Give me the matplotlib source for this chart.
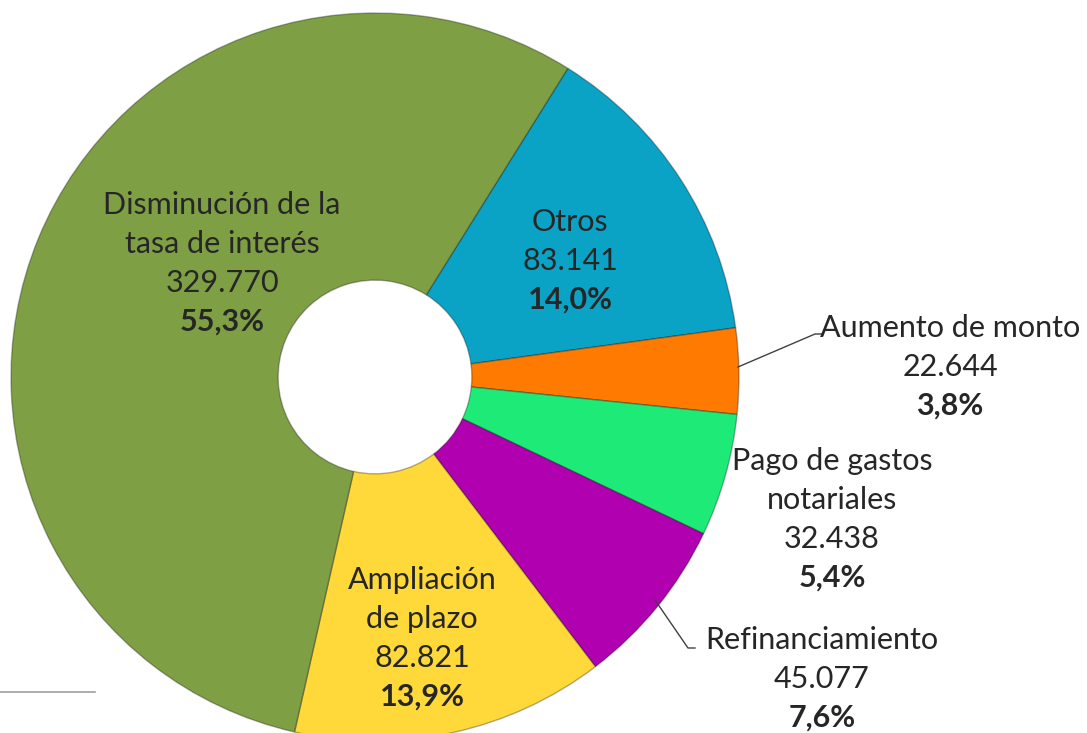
import matplotlib.pyplot as plt

# data (order: clockwise starting at the Otros slice)
labels = ['Otros', 'Aumento de monto', 'Pago de gastos\nnotariales', 'Refinanciamiento',
          'Ampliación\nde plazo', 'Disminución de la\ntasa de interés']
values = [83141, 22644, 32438, 45077, 82821, 329770]
value_txt = ['83.141', '22.644', '32.438', '45.077', '82.821', '329.770']
pct_txt = ['14,0%', '3,8%', '5,4%', '7,6%', '13,9%', '55,3%']
colors = ['#0aa3c6', '#ff7a00', '#1eea78', '#b000b0', '#ffd83a', '#7f9f45']

plt.rcParams['font.family'] = ['Lato', 'DejaVu Sans']

fig = plt.figure(figsize=(10.87, 7.33), dpi=100)
ax = fig.add_axes([0, 0, 1, 1])
ax.axis('off')

cx, cy, r = 375, 356, 364
ax.pie(values, colors=colors, center=(cx, cy), radius=r, startangle=58, counterclock=False,
       wedgeprops=dict(width=r * 0.734, edgecolor=(0, 0, 0, 0.3), linewidth=1))
ax.set_xlim(0, 1087)
ax.set_ylim(0, 733)
ax.set_aspect('equal')

# label positions (x, y of the first line) in pixel coords from top
pos = [(570, 222), (950, 328), (832, 461), (822, 640), (422, 580), (222, 205)]
step = 39
tc = '#262626'
for lab, v, p, (x, y) in zip(labels, value_txt, pct_txt, pos):
    lines = lab.split('\n') + [v]
    for i, s in enumerate(lines):
        ax.text(x, 733 - (y + i * step), s, ha='center', va='center', fontsize=22, color=tc)
    ax.text(x, 733 - (y + len(lines) * step), p, ha='center', va='center', fontsize=22,
            color=tc, fontweight='bold')

# leader lines
ax.plot([738, 815, 822], [733 - 367, 733 - 334, 733 - 334], color='#404040', lw=1)
ax.plot([655, 688, 695], [733 - 600, 733 - 648, 733 - 648], color='#404040', lw=1)

# stray line bottom-left
ax.plot([0, 95], [733 - 692, 733 - 692], color='#a0a0a0', lw=1.2)

fig.savefig('out.png', dpi=100)
